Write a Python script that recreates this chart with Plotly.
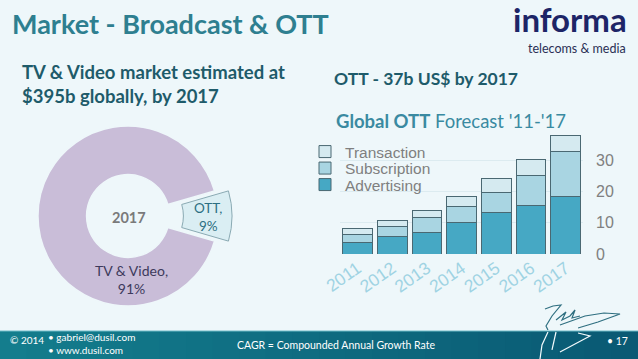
import plotly.graph_objects as go

# ---------------- data ----------------
years = ["2011", "2012", "2013", "2014", "2015", "2016", "2017"]
advertising = [3.8, 5.5, 7.0, 9.9, 13.1, 15.6, 18.2]
subscription = [2.5, 3.4, 4.5, 5.2, 6.6, 9.6, 14.4]
transaction = [1.7, 1.8, 2.5, 3.3, 4.4, 5.0, 5.3]
y_ticks = [0, 10, 20, 30]

pie_labels = ["OTT", "TV & Video"]
pie_values = [9, 91]

W, H = 638, 359
BG = "#eef7fa"


def px(x):
    return x / W


def py(y):
    return 1 - y / H


fig = go.Figure()

# ---------------- donut ----------------
fig.add_trace(go.Pie(
    labels=pie_labels, values=pie_values, sort=False,
    direction="clockwise", rotation=73.8, hole=0.46,
    pull=[0.155, 0], textinfo="none", hoverinfo="label+percent",
    marker=dict(colors=["#daeef3", "#c9bdd8"],
                line=dict(color=["#8aaab3", BG], width=[1, 1.5])),
    domain=dict(x=[px(128 - 104), px(128 + 104)], y=[py(216 + 104), py(216 - 104)]),
    showlegend=False,
))

# ---------------- stacked bars ----------------
line = dict(color="#4a6872", width=1)
fig.add_trace(go.Bar(x=years, y=advertising, name="Advertising", legend="legend3",
                     marker=dict(color="#46a8c4", line=line)))
fig.add_trace(go.Bar(x=years, y=subscription, name="Subscription", legend="legend2",
                     marker=dict(color="#a9d5e2", line=line)))
fig.add_trace(go.Bar(x=years, y=transaction, name="Transaction", legend="legend",
                     marker=dict(color="#d5eaf0", line=line)))


def leg(yc):
    return dict(x=px(305), y=py(yc), xanchor="left", yanchor="middle",
                bgcolor="rgba(0,0,0,0)", borderwidth=0,
                font=dict(size=15.5, color="#7f7f7f"), itemwidth=30)


fig.update_layout(
    width=W, height=H, autosize=False,
    margin=dict(l=0, r=0, t=0, b=0, pad=0),
    paper_bgcolor=BG, plot_bgcolor="rgba(0,0,0,0)",
    barmode="stack", bargap=0.145,
    font=dict(family="Liberation Sans, Arial, sans-serif"),
    xaxis=dict(domain=[px(340.1), px(583.1)], range=[-0.5, 6.5], automargin=False,
               tickangle=-35, tickfont=dict(size=17.5, color="#9fd3e3"),
               showgrid=False, showline=False, zeroline=False, ticks=""),
    yaxis=dict(domain=[py(254), py(131.8)], range=[0, 39], side="right", automargin=False,
               tickvals=y_ticks, tickfont=dict(size=16, color="#808080"),
               showgrid=True, gridcolor="#dcebf0", gridwidth=1,
               zeroline=False, showline=False, ticklabelstandoff=12),
    legend=leg(152), legend2=leg(168.5), legend3=leg(185),
)

shapes = []
# footer band with a simple gradient
n = 24
c0 = (0x14, 0x7d, 0x8d)
c1 = (0x0a, 0x5a, 0x74)
for i in range(n):
    t = i / (n - 1)
    c = tuple(int(c0[k] + (c1[k] - c0[k]) * t) for k in range(3))
    shapes.append(dict(type="rect", xref="paper", yref="paper",
                       x0=i / n, x1=(i + 1) / n + 0.002, y0=0, y1=py(331),
                       fillcolor="rgb(%d,%d,%d)" % c, line=dict(width=0), layer="below"))
shapes.append(dict(type="line", xref="paper", yref="paper", x0=0, x1=1,
                   y0=py(331), y1=py(331), line=dict(color="#6fbcc8", width=1.2)))

# signature (decorative)
def path(pts):
    s = "M %.4f %.4f" % (px(pts[0][0]), py(pts[0][1]))
    for p in pts[1:]:
        s += " L %.4f %.4f" % (px(p[0]), py(p[1]))
    return s

sig_dark = [
    [(545, 309), (553, 306), (561, 305), (552, 316), (546, 326), (548, 330)],
    [(556, 320), (566, 312), (562, 320), (570, 316), (575, 310), (572, 318), (580, 316)],
    [(560, 325), (585, 316), (604, 313), (620, 314), (598, 322), (578, 328)],
]
sig_light = [
    [(548, 332), (542, 345), (540, 359)],
    [(556, 332), (552, 350)],
    [(560, 352), (590, 336), (578, 333)],
]
for p in sig_dark:
    shapes.append(dict(type="path", xref="paper", yref="paper", path=path(p),
                       line=dict(color="#2f6f80", width=1.2)))
for p in sig_light:
    shapes.append(dict(type="path", xref="paper", yref="paper", path=path(p),
                       line=dict(color="#f4fbfd", width=1.2)))
fig.update_layout(shapes=shapes)

SLIDE = "Lato, 'Open Sans', sans-serif"
ann = []


def A(text, x, y, size, color, xanchor="left", yanchor="middle", family=SLIDE, **kw):
    ann.append(dict(text=text, x=px(x), y=py(y), xref="paper", yref="paper",
                    xanchor=xanchor, yanchor=yanchor, showarrow=False,
                    font=dict(size=size, color=color, family=family), **kw))


A("<b>Market - Broadcast &amp; OTT</b>", 10, 23, 27, "#2e7f90")
A("<b>informa</b>", 628, 19.5, 33, "#1d2567", xanchor="right", borderpad=0)
A("telecoms &amp; media", 627, 49, 12.5, "#2a2f55", xanchor="right", borderpad=0)

A("<b>TV &amp; Video market estimated at<br>$395b globally, by 2017</b>", 20, 84, 18.5,
  "#1e5b6a", align="left")
A("<b>OTT - 37b US$ by 2017</b>", 332, 78, 17.5, "#1e5b6a")
A("<b>Global OTT</b> Forecast '11-'17", 334, 120.5, 18.5, "#3a8aa1")

# donut labels
A("<b>2017</b>", 129, 217, 14.5, "#7a7a7a", xanchor="center")
A("OTT,<br>9%", 208, 216.5, 13.5, "#2c6f82", xanchor="center")
A("TV &amp; Video,<br>91%", 131, 279, 14, "#3d3a5c", xanchor="center")

# billion US$ inside the 2017 bar
ann.append(dict(text="<b>billion  US$</b>", x="2017", y=18, xref="x", yref="y",
                textangle=-90, showarrow=False, xshift=4,
                font=dict(size=15, color="#ffffff", family="Liberation Sans, Arial")))

# footer
A("© 2014", 8, 340, 10, "#ffffff")
A("• gabriel@dusil.com<br>• www.dusil.com", 46, 343.5, 10, "#ffffff", align="left")
A("CAGR = Compounded Annual Growth Rate", 235, 345, 10.5, "#ffffff")
A("• 17", 630, 341, 10.5, "#ffffff", xanchor="right")

fig.update_layout(annotations=ann)
fig.write_html("out.html", config={"displayModeBar": False},
               post_script="document.body.style.margin='0';document.body.style.overflow='hidden';")
